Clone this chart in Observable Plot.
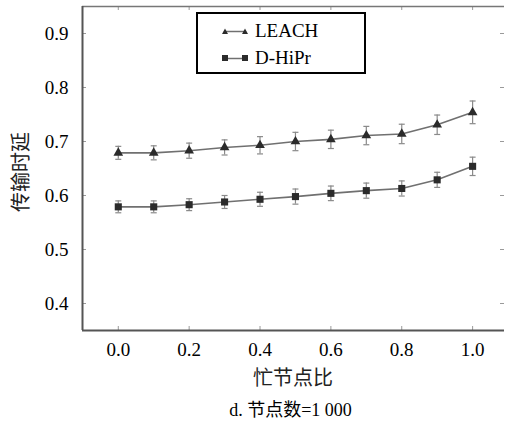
<!DOCTYPE html>
<html><head><meta charset="utf-8">
<script src="https://cdn.jsdelivr.net/npm/d3@7"></script>
<script src="https://cdn.jsdelivr.net/npm/@observablehq/plot@0.6"></script>
<style>
body{margin:0;background:#fff}
#wrap{position:relative;width:505px;height:426px;overflow:hidden;font-family:'Liberation Serif','Times New Roman','Noto Sans CJK SC',serif;color:#000}
#wrap svg, #wrap svg text{font-family:'Liberation Serif','Times New Roman',serif !important}
#legend{position:absolute;left:196px;top:12px;width:166px;height:58px;border:2px solid #000;background:#fff}
#legend .row{position:absolute;left:24px;height:26px;display:flex;align-items:center;font-size:19px}
#legend svg{margin-right:7px}
.lab{position:absolute;font-size:20px;white-space:nowrap;line-height:1;color:#222;font-family:'Noto Sans CJK SC',sans-serif;font-weight:normal}
#caption{position:absolute;left:0;top:395px;width:505px;height:31px;line-height:31px;text-align:center;font-size:18px;padding-left:76px;box-sizing:border-box;color:#000}
</style></head><body><div id="wrap"></div>
<script>
const ratios = [0.0, 0.1, 0.2, 0.3, 0.4, 0.5, 0.6, 0.7, 0.8, 0.9, 1.0];
const leach = [0.679, 0.679, 0.683, 0.689, 0.693, 0.700, 0.704, 0.711, 0.714, 0.731, 0.754];
const leachErr = [0.012, 0.013, 0.014, 0.014, 0.016, 0.017, 0.017, 0.017, 0.018, 0.018, 0.021];
const dhipr = [0.579, 0.579, 0.583, 0.588, 0.593, 0.598, 0.604, 0.609, 0.613, 0.629, 0.654];
const dhiprErr = [0.011, 0.011, 0.011, 0.012, 0.013, 0.014, 0.0135, 0.014, 0.014, 0.014, 0.017];
const seriesNames = ["LEACH", "D-HiPr"];
const xTicks = [0.0, 0.2, 0.4, 0.6, 0.8, 1.0];
const yTicks = [0.4, 0.5, 0.6, 0.7, 0.8, 0.9];
const xLabel = "忙节点比";
const yLabel = "传输时延";
const captionText = "d. 节点数=1 000";
const xDomain = [-0.101, 1.09];
const yDomain = [0.35, 0.95];

const rows = [];
ratios.forEach((r, i) => {
  rows.push({series: seriesNames[0], x: r, y: leach[i], lo: leach[i] - leachErr[i], hi: leach[i] + leachErr[i]});
  rows.push({series: seriesNames[1], x: r, y: dhipr[i], lo: dhipr[i] - dhiprErr[i], hi: dhipr[i] + dhiprErr[i]});
});
const capSymbol = {draw(ctx, size) { const r = Math.sqrt(size / Math.PI); ctx.moveTo(-r, 0); ctx.lineTo(r, 0); }};

const W = 505, H = 395, mL = 82, mT = 6, mB = 65, mR = 1;
const plotW = W - mL - mR, plotH = H - mT - mB;
const gridGray = "#9a9a9a";

const chart = Plot.plot({
  width: W, height: H,
  marginLeft: mL, marginTop: mT, marginBottom: mB, marginRight: mR,
  style: {fontSize: "19px", color: "#000", background: "#fff", fontFamily: "Liberation Serif, serif"},
  x: {domain: xDomain, ticks: xTicks, tickFormat: d => d.toFixed(1), tickSize: 0, tickPadding: 12, label: null},
  y: {domain: yDomain, ticks: yTicks, tickFormat: d => d.toFixed(1), tickSize: 0, tickPadding: 14, label: null},
  marks: [
    Plot.tickX(xTicks, {x: d => d, insetTop: plotH - 4, stroke: gridGray}),
    Plot.tickX(xTicks, {x: d => d, insetBottom: plotH - 4, stroke: gridGray}),
    Plot.tickY(yTicks, {y: d => d, insetRight: plotW - 4, stroke: gridGray}),
    Plot.tickY(yTicks, {y: d => d, insetLeft: plotW - 4, stroke: gridGray}),
    Plot.ruleY([yDomain[1]], {stroke: "#777", strokeWidth: 1.5}),
    Plot.ruleX([xDomain[0]], {stroke: "#555", strokeWidth: 2}),
    Plot.ruleY([yDomain[0]], {stroke: "#555", strokeWidth: 2}),
    Plot.ruleX(rows, {x: "x", y1: "lo", y2: "hi", stroke: "#8a8a8a", strokeWidth: 1.2}),
    Plot.dot(rows, {x: "x", y: "lo", symbol: capSymbol, r: 3, stroke: "#8a8a8a", strokeWidth: 1.2}),
    Plot.dot(rows, {x: "x", y: "hi", symbol: capSymbol, r: 3, stroke: "#8a8a8a", strokeWidth: 1.2}),
    Plot.line(rows, {x: "x", y: "y", z: "series", stroke: "#707070", strokeWidth: 1.6}),
    Plot.dot(rows.filter(d => d.series === seriesNames[0]), {x: "x", y: "y", symbol: "triangle", r: 3.6, fill: "#2b2b2b", stroke: "none"}),
    Plot.dot(rows.filter(d => d.series === seriesNames[1]), {x: "x", y: "y", symbol: "square", r: 4, fill: "#2b2b2b", stroke: "none"})
  ]
});

const wrap = document.getElementById("wrap");
wrap.appendChild(chart);

const xl = document.createElement("div");
xl.className = "lab";
xl.textContent = xLabel;
xl.style.cssText = "left:293px;top:377px;transform:translate(-50%,-50%)";
wrap.appendChild(xl);

const yl = document.createElement("div");
yl.className = "lab";
yl.textContent = yLabel;
yl.style.cssText = "left:20px;top:172px;transform:translate(-50%,-50%) rotate(-90deg)";
wrap.appendChild(yl);

const legend = document.createElement("div");
legend.id = "legend";
const mk = (sym) => {
  const s = sym === "triangle"
    ? `<polygon points="3,1.5 6,7 0,7" fill="#2b2b2b"/><polygon points="23,1.5 26,7 20,7" fill="#2b2b2b"/>`
    : `<rect x="0" y="1" width="6" height="6" fill="#2b2b2b"/><rect x="20" y="1" width="6" height="6" fill="#2b2b2b"/>`;
  return `<svg width="26" height="8"><line x1="3" y1="4.5" x2="23" y2="4.5" stroke="#707070" stroke-width="1.5"/>${s}</svg>`;
};
legend.innerHTML = `<div class="row" style="top:4px">${mk("triangle")}${seriesNames[0]}</div><div class="row" style="top:31px">${mk("square")}${seriesNames[1]}</div>`;
wrap.appendChild(legend);

const cap = document.createElement("div");
cap.id = "caption";
cap.textContent = captionText;
wrap.appendChild(cap);
</script>
</body></html>
